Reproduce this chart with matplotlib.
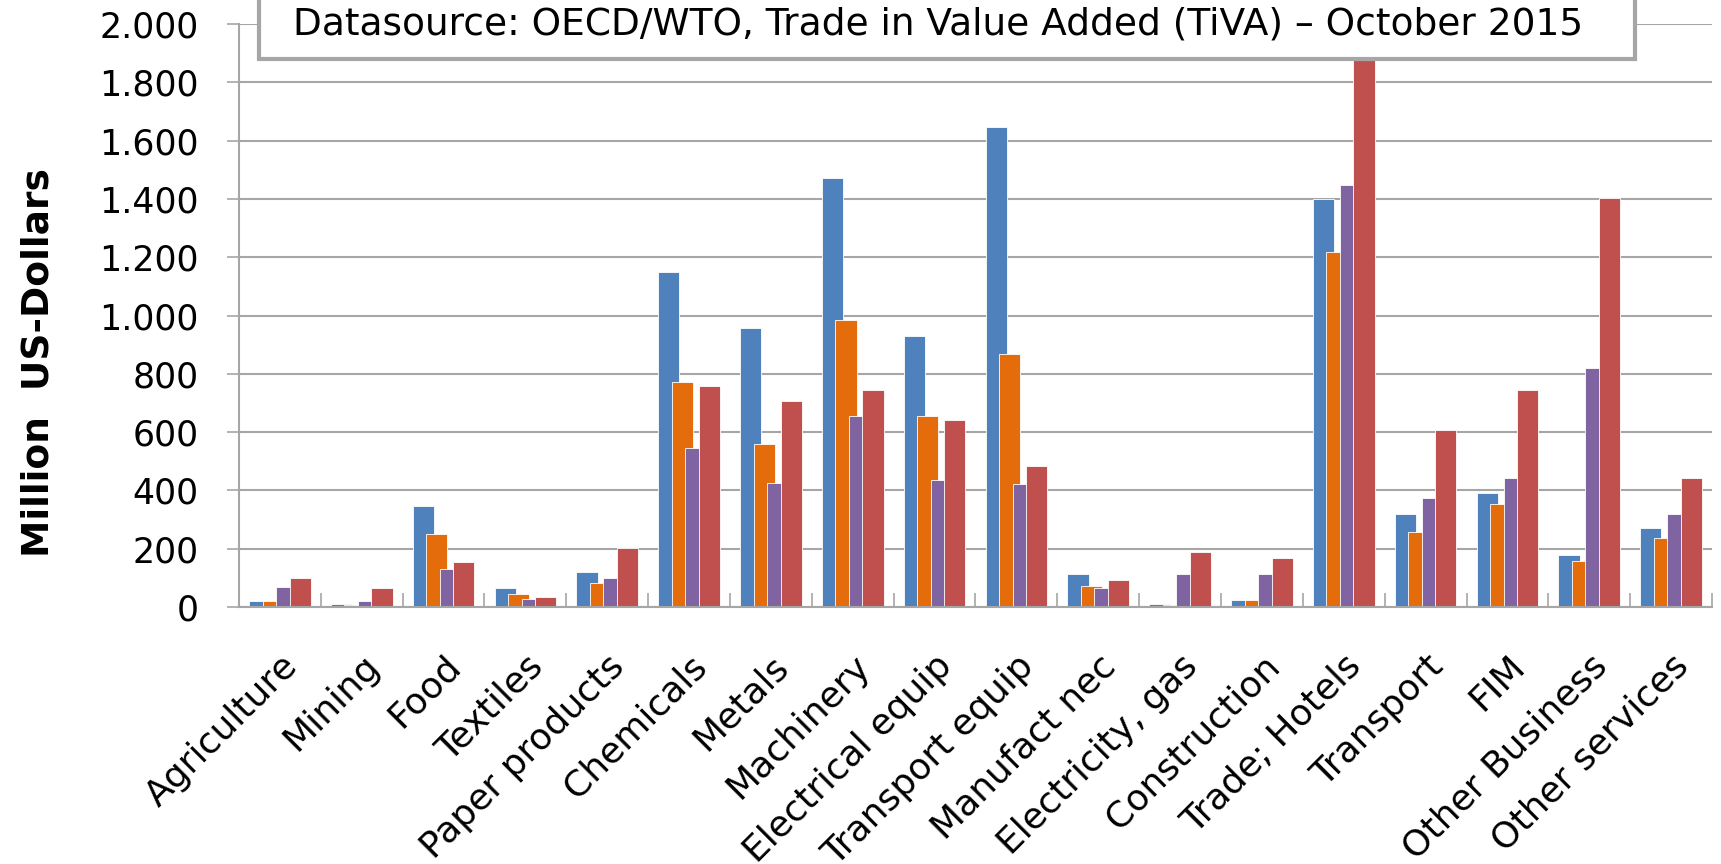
import matplotlib
matplotlib.use("Agg")
import matplotlib.pyplot as plt
import matplotlib.patches as patches
from matplotlib.ticker import FuncFormatter, MultipleLocator
import numpy as np

# Sectors (x axis)
sectors = ["Agriculture", "Mining", "Food", "Textiles", "Paper products",
           "Chemicals", "Metals", "Machinery", "Electrical equip",
           "Transport equip", "Manufact nec", "Electricity, gas",
           "Construction", "Trade; Hotels", "Transport", "FIM",
           "Other Business", "Other services"]

# Four series, million US-Dollars
series_blue = [22, 9, 345, 64, 119, 1148, 956, 1471, 930, 1645, 112, 10,
               23, 1400, 318, 392, 179, 270]
series_orange = [22, 8, 249, 43, 83, 771, 559, 984, 654, 869, 71, 8,
                 23, 1218, 256, 352, 159, 235]
series_purple = [70, 22, 131, 28, 98, 545, 427, 656, 434, 422, 64, 112,
                 112, 1446, 374, 443, 820, 318]
series_red = [98, 64, 153, 36, 203, 757, 708, 744, 640, 484, 91, 187,
              167, 1900, 606, 746, 1404, 443]

yticks = list(range(0, 2001, 200))
title_text = "Datasource: OECD/WTO, Trade in Value Added (TiVA) \u2013 October 2015"
ylabel_text = "Million  US-Dollars"

colors = ['#4F81BD', '#E46C0A', '#8064A2', '#C0504D']
grid_color = '#A6A6A6'

W, H = 1721, 864
fig = plt.figure(figsize=(W / 100, H / 100), dpi=100)
fig.patch.set_facecolor('white')

# plot area in pixel coordinates of the reference
left, right, top, bottom = 239, 1712, 24, 607
ax = fig.add_axes([left / W, 1 - bottom / H, (right - left) / W, (bottom - top) / H])

x = np.arange(len(sectors))
step = 0.165
width = 0.26
all_series = [series_blue, series_orange, series_purple, series_red]
for i, (vals, col) in enumerate(zip(all_series, colors)):
    ax.bar(x + (i - 1.5) * step, vals, width=width, color=col,
           edgecolor='white', linewidth=0.6, zorder=2 + i * 0.1)

ax.set_xlim(-0.5, len(sectors) - 0.5)
ax.set_ylim(0, 2000)

# y axis
ax.set_yticks(yticks)
ax.yaxis.set_major_formatter(FuncFormatter(lambda v, p: f"{int(v):,}".replace(',', '.')))
ax.tick_params(axis='y', direction='out', length=9, width=1.2, color=grid_color,
               labelsize=25, pad=20)
ax.yaxis.grid(True, color=grid_color, linewidth=1.5, zorder=0)
ax.set_axisbelow(True)

# x axis: labels at centres, tick marks at category boundaries
# (the lowest labels run off the bottom edge, as in the original)
ax.set_xticks(x)
ax.set_xticklabels(sectors, rotation=45, ha='right', va='top',
                   rotation_mode='anchor', fontsize=26)
ax.tick_params(axis='x', which='major', length=0, pad=30)
ax.xaxis.set_minor_locator(MultipleLocator(1, offset=0.5))
ax.tick_params(axis='x', which='minor', direction='in', length=10, width=1.2,
               color=grid_color)

for side in ['top', 'right']:
    ax.spines[side].set_visible(False)
for side in ['left', 'bottom']:
    ax.spines[side].set_color(grid_color)
    ax.spines[side].set_linewidth(1.5)

ax.set_ylabel(ylabel_text, fontsize=27, fontweight='bold')
ax.yaxis.set_label_coords((57 - left) / (right - left), 0.42)

# data source box over the top of the plot
bx0, bx1, by1 = 259, 1635, 59
box = patches.Rectangle((bx0 / W, 1 - by1 / H), (bx1 - bx0) / W, by1 / H + 0.05,
                        transform=fig.transFigure, facecolor='white',
                        edgecolor='#A6A6A6', linewidth=3, zorder=10, clip_on=False)
fig.patches.append(box)
fig.text(938 / W, 1 - 25 / H, title_text, ha='center', va='center',
         fontsize=27, zorder=11)

fig.savefig('out.png', dpi=100, facecolor='white')
